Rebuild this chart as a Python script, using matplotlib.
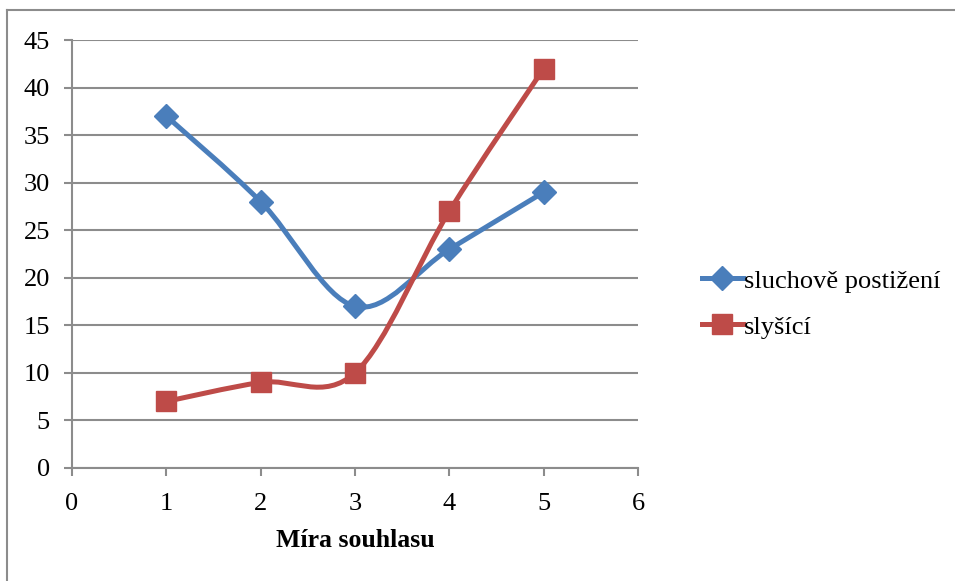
import matplotlib
matplotlib.use("Agg")
import matplotlib.pyplot as plt
from matplotlib.path import Path
from matplotlib.patches import PathPatch
from matplotlib.lines import Line2D
import numpy as np

x_vals = [1, 2, 3, 4, 5]
sluchove = [37, 28, 17, 23, 29]
slysici = [7, 9, 10, 27, 42]
labels = ["sluchově postižení", "slyšící"]
colors = ["#4A7EBB", "#BE4B48"]

plt.rcParams["font.family"] = ["Liberation Serif", "DejaVu Serif"]


def smooth_path(xs, ys):
    # Excel-like smoothing: cubic bezier with catmull-rom control points
    pts = np.column_stack([xs, ys]).astype(float)
    n = len(pts)
    verts = [pts[0]]
    codes = [Path.MOVETO]
    for i in range(n - 1):
        p0 = pts[i - 1] if i > 0 else pts[i]
        p1 = pts[i]
        p2 = pts[i + 1]
        p3 = pts[i + 2] if i + 2 < n else pts[i + 1]
        c1 = p1 + (p2 - p0) / 6
        c2 = p2 - (p3 - p1) / 6
        verts += [c1, c2, p2]
        codes += [Path.CURVE4] * 3
    return Path(verts, codes)


fig = plt.figure(figsize=(9.55, 5.81), dpi=100)
ax = fig.add_axes([0.0754, 0.1945, 0.5927, 0.7366])

markers = ["D", "s"]
msizes = [12, 14]
for ys, c, m, ms, lab in zip([sluchove, slysici], colors, markers, msizes, labels):
    ax.add_patch(PathPatch(smooth_path(x_vals, ys), fill=False, edgecolor=c,
                           lw=3.6, capstyle="round", joinstyle="round", zorder=3))
    ax.plot(x_vals, ys, linestyle="none", marker=m, markersize=ms, color=c,
            markeredgecolor=c, zorder=4)

ax.set_xlim(0, 6)
ax.set_ylim(0, 45)
ax.set_xticks(range(0, 7))
ax.set_yticks(range(0, 46, 5))
ax.yaxis.grid(True, color="#8c8c8c", lw=1.5)
ax.set_axisbelow(True)
for s in ["top", "right"]:
    ax.spines[s].set_visible(False)
for s in ["left", "bottom"]:
    ax.spines[s].set_color("#8c8c8c")
    ax.spines[s].set_linewidth(1.5)
ax.tick_params(axis="both", direction="out", color="#8c8c8c", width=1.5,
               length=6, labelsize=19)
ax.tick_params(axis="x", pad=12)
ax.tick_params(axis="y", pad=10)
ax.set_xlabel("Míra souhlasu", fontsize=18.5, fontweight="bold", labelpad=10)

handles = [
    Line2D([], [], color=colors[0], lw=3.6, marker="D", markersize=12),
    Line2D([], [], color=colors[1], lw=3.6, marker="s", markersize=14),
]
fig.legend(handles, labels, loc="center left", bbox_to_anchor=(0.71, 0.477),
           frameon=False, fontsize=19, handlelength=1.55, handletextpad=0.05,
           labelspacing=0.85)

# outer chart border (left and top visible)
fig.add_artist(Line2D([0.0073, 0.0073], [0, 0.983], transform=fig.transFigure,
                      color="#8c8c8c", lw=1.5))
fig.add_artist(Line2D([0.0073, 1.0], [0.983, 0.983], transform=fig.transFigure,
                      color="#8c8c8c", lw=1.5))

fig.savefig("out.png", dpi=100)
